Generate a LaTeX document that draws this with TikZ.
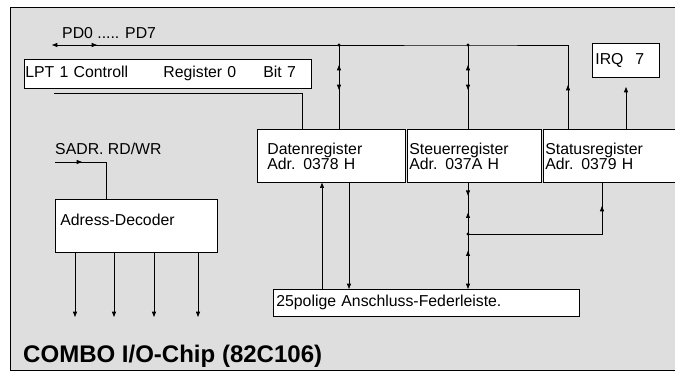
\documentclass[tikz,border=0pt]{standalone}
\usepackage{fontspec}
\setmainfont{Liberation Sans}
\usetikzlibrary{positioning,arrows.meta,decorations.markings}
\definecolor{chipgray}{RGB}{222,222,222}

\begin{document}
\begin{tikzpicture}[
    x=0.03cm, y=-0.03cm,
    every node/.style={font=\fontsize{13.5}{12.8}\selectfont},
    regtip/.tip={Triangle[length=4.5pt,width=3.4pt]},
    box/.style={draw, fill=white, line width=0.6pt, anchor=north west,
                inner ysep=0pt, align=left},
    lbl/.style={anchor=west, inner sep=0pt},
    wire/.style={line width=0.6pt},
    arr/.style={wire, -regtip},
    mfwd/.style={postaction={decorate, decoration={markings,
        mark=at position #1 with {\arrow{regtip}}}}},
    mbwd/.style={postaction={decorate, decoration={markings,
        mark=at position #1 with {\arrowreversed{regtip}}}}},
]
\useasboundingbox (0,0) rectangle (675,372);
% chip frame
\fill[chipgray] (10,7) rectangle (675,370);
\draw[line width=0.8pt] (675,7) -- (10,7) -- (10,370) -- (675,370);

% boxes (placed by top left corner)
\node[box, minimum width=8.61cm, minimum height=0.87cm, inner xsep=0.03cm, text width=8.55cm]
  (lpt) at (24,59) {\makebox[4.14cm][l]{LPT 1 Controll}\makebox[3cm][l]{Register 0}Bit 7};
\node[box, minimum width=2.01cm, minimum height=1.02cm, inner xsep=0.09cm, text width=1.83cm]
  (irq) at (592,43) {IRQ\hspace{0.36cm}7};
\node[box, minimum width=4.44cm, minimum height=1.59cm, inner xsep=0.3cm, text width=3.84cm]
  (daten) at (257,129) {Datenregister\\Adr. 0378 H};
\node[box, minimum width=4.02cm, minimum height=1.59cm, inner xsep=0.06cm, text width=3.9cm]
  (steuer) at (407,129) {Steuerregister\\Adr. 037A H};
\node[box, minimum width=4.11cm, minimum height=1.59cm, inner xsep=0.06cm, text width=3.99cm]
  (status) at (543,129) {Statusregister\\Adr. 0379 H};
\node[box, minimum width=4.86cm, minimum height=1.59cm, inner xsep=0.15cm, text width=4.56cm]
  (dec) at (55,199) {Adress-Decoder\\[-3pt]\mbox{}};
\node[box, minimum width=9.18cm, minimum height=0.81cm, inner xsep=0.09cm, text width=9.0cm]
  (feder) at (273,289) {25polige Anschluss-Federleiste.};

% labels
\node[lbl] (pdlab) at (62,33) {PD0 ..... PD7};
\node[lbl] (sadr) at (55,149) {SADR. RD/WR};
\node[lbl, font=\bfseries\fontsize{20.5}{22}\selectfont] (title) at (23,356) {COMBO I/O-Chip (82C106)};

% junctions and free ends
\coordinate (pdl) at (52,45);
\coordinate (j1) at (339,45);
\coordinate (j2) at (468,45);
\coordinate (c3) at (568,45);
\coordinate (j3) at (468,234);
\coordinate (c4) at (602,234);
\coordinate (l1) at (54,93);
\coordinate (l2) at (302,93);
\coordinate (s1) at (55,162);
\coordinate (s2) at (106,162);
\coordinate (irqin) at (626,87);
\coordinate (xa) at (322,0);
\coordinate (xb) at (349,0);

% data bus PD0..PD7
\draw[wire, {regtip}-, mfwd=1.35cm] (pdl) -- (j1);
\draw[wire, mbwd=8.07cm] (j1) -- (j2) -- (c3) -- (status.north -| c3);
\draw[wire, mbwd=0.6cm, mfwd=1.35cm] (j1) -- (daten.north -| j1);
\draw[wire, mbwd=0.6cm, mfwd=1.35cm] (j2) -- (steuer.north -| j2);
\fill (j1) circle (1.4pt) (j2) circle (1.4pt) (j3) circle (1.4pt);

% LPT bit 7
\draw[wire] (l1) -- (l2) -- (daten.north -| l2);
% IRQ
\draw[arr] (status.north -| irqin) -- (irqin);
% address decoder
\draw[wire, mfwd=0.81cm] (s1) -- (s2) -- (dec.north -| s2);
\foreach \x [count=\i] in {75,114,154,198} {
  \coordinate (o\i) at (\x,317);
  \draw[arr] (dec.south -| o\i) -- (o\i);
}
% registers to connector
\draw[arr] (feder.north -| xa) -- (daten.south -| xa);
\draw[arr] (daten.south -| xb) -- (feder.north -| xb);
\draw[arr, mfwd=0.39cm, mbwd=0.9cm, mbwd=2.04cm] (steuer.south -| j3) -- (feder.north -| j3);
\draw[wire, mfwd=4.86cm] (j3) -- (c4) -- (status.south -| c4);
\end{tikzpicture}
\end{document}
